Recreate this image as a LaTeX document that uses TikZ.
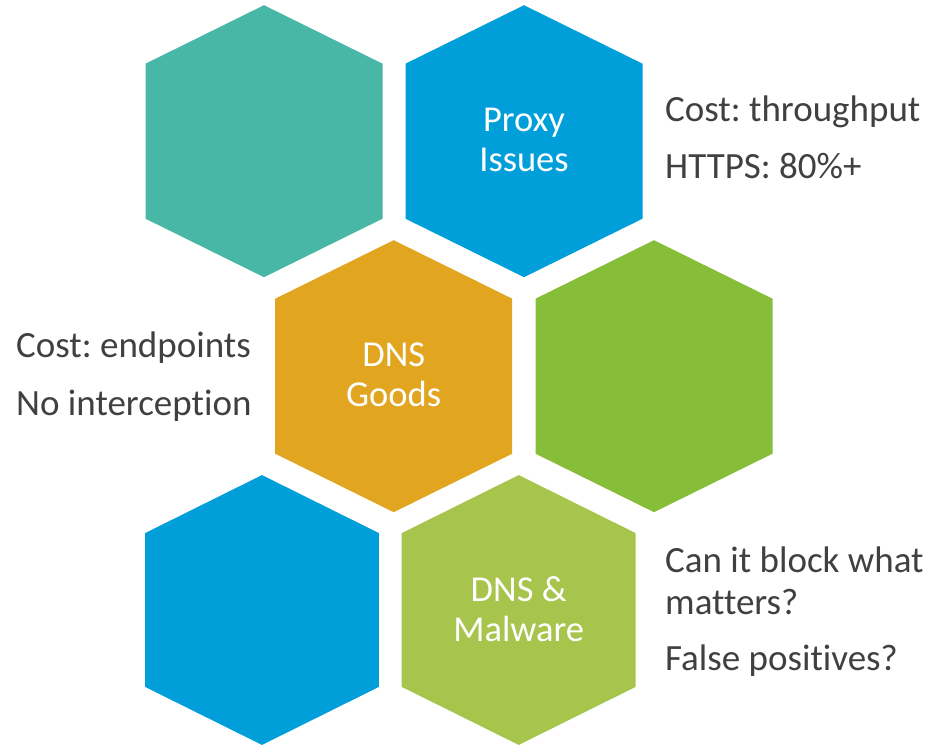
\documentclass[tikz,border=0pt]{standalone}
\usepackage{fontspec}
\setmainfont{Carlito}[Ligatures=NoCommon]
\frenchspacing
\definecolor{hexteal}{HTML}{48B7A6}
\definecolor{hexblue}{HTML}{009FDA}
\definecolor{hexorange}{HTML}{E2A51F}
\definecolor{hexgreen}{HTML}{86BE39}
\definecolor{hexlime}{HTML}{A7C44C}
\definecolor{sidegray}{HTML}{404040}
\tikzset{
  hexa/.pic={\fill (0,-136) -- (118.5,-77.5) -- (118.5,77.5) -- (0,136)
                  -- (-118.5,77.5) -- (-118.5,-77.5) -- cycle;},
  hextext/.style={text=white, inner sep=0pt, anchor=base,
                  font=\fontsize{36.5}{40}\selectfont},
  sidetext/.style={text=sidegray, inner sep=0pt, anchor=base west,
                   font=\fontsize{37}{42}\selectfont}
}
\begin{document}
\begin{tikzpicture}[x=1pt, y=-1pt]
\useasboundingbox (0,0) rectangle (931,746);

% honeycomb
\pic[fill=hexteal]   at (264,141.2) {hexa};
\pic[fill=hexblue]   at (524,141.2) {hexa};
\pic[fill=hexorange] at (393.7,376.2) {hexa};
\pic[fill=hexgreen]  at (654,376.2) {hexa};
\pic[fill=hexblue, xscale=0.987, yscale=0.992]  at (262,610) {hexa};
\pic[fill=hexlime,  xscale=0.987, yscale=0.992] at (518.7,610) {hexa};

% labels inside the hexagons
\node[hextext] (proxyA) at (524,131.7) {Proxy};
\node[hextext] (proxyB) at (524,171.2) {Issues};
\node[hextext] (goodsA) at (393.7,366) {DNS};
\node[hextext] (goodsB) at (393.7,406) {Goods};
\node[hextext] (malA) at (518.7,601) {DNS \&};
\node[hextext] (malB) at (518.7,641.5) {Malware};

% notes beside the hexagons
\node[sidetext] (noteP1) at (665,121.7) {Cost: throughput};
\node[sidetext] (noteP2) at (665,178.3) {HTTPS: 80\%+};
\node[sidetext] (noteG1) at (16,357.3) {Cost: endpoints};
\node[sidetext] (noteG2) at (16,415) {No interception};
\node[sidetext] (noteM1) at (665,572.3) {Can it block what};
\node[sidetext] (noteM2) at (665,614.3) {matters?};
\node[sidetext] (noteM3) at (665,670.7) {False positives?};
\end{tikzpicture}
\end{document}
